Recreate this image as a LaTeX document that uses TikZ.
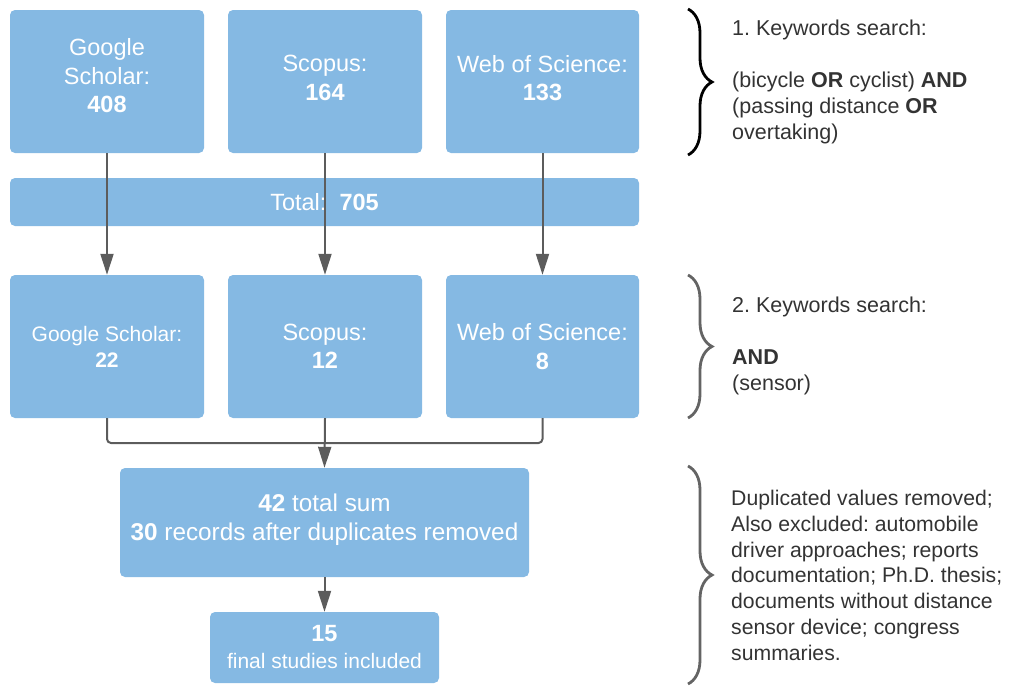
\documentclass[tikz,border=0pt]{standalone}
\usepackage{fontspec}
\setmainfont{Liberation Sans}
\usetikzlibrary{arrows.meta,decorations.pathreplacing}
\definecolor{boxblue}{RGB}{133,185,227}
\definecolor{arrowgray}{RGB}{92,92,92}
\definecolor{bracegray}{RGB}{100,100,100}
\definecolor{textgray}{RGB}{51,51,51}
\frenchspacing
\begin{document}
\begin{tikzpicture}[x=1pt,y=-1pt,
  box/.style={fill=boxblue,draw=none,rounded corners=5pt,text=white,align=center,
    inner sep=0pt,font=\fontsize{23.5}{28.5}\selectfont},
  arr/.style={draw=arrowgray,line width=2pt,-{Triangle[width=13pt,length=21pt]}},
  conn/.style={draw=arrowgray,line width=2pt,rounded corners=4pt},
  note/.style={anchor=north west,align=left,inner sep=0pt,text=textgray,
    font=\fontsize{21.5}{26}\selectfont},
  bracestyle/.style={decorate,decoration={brace,amplitude=24pt,aspect=0.5},line width=2.8pt}
]
\useasboundingbox (0,0) rectangle (1015,686);

% top row
\node[box,minimum width=194pt,minimum height=143pt,text depth=12pt] (gs1) at (107,81.5) {Google\\Scholar:\\\textbf{408}};
\node[box,minimum width=194pt,minimum height=143pt,text depth=7pt] (sc1) at (325,81.5) {Scopus:\\\textbf{164}};
\node[box,minimum width=193pt,minimum height=143pt,text depth=7pt] (ws1) at (542.5,81.5) {Web of Science:\\\textbf{133}};

% total bar
\node[box,minimum width=629pt,minimum height=48pt] (tot) at (324.5,202) {Total:\ \ \textbf{705}};

% second row
\node[box,minimum width=194pt,minimum height=143pt,font=\fontsize{21}{26}\selectfont] (gs2) at (107,346.5) {Google Scholar:\\\textbf{22}};
\node[box,minimum width=194pt,minimum height=143pt] (sc2) at (325,346.5) {Scopus:\\\textbf{12}};
\node[box,minimum width=193pt,minimum height=143pt] (ws2) at (542.5,346.5) {Web of Science:\\\textbf{8}};

% merged box
\node[box,minimum width=409pt,minimum height=109pt,text depth=11pt,font=\fontsize{24.3}{29}\selectfont] (mrg) at (324.5,522.5) {\textbf{42} total sum\\\textbf{30} records after duplicates removed};

% final box
\node[box,minimum width=229pt,minimum height=71pt,font=\fontsize{21}{27}\selectfont] (fin) at (324.5,647.5) {{\fontsize{23.5}{27}\selectfont\textbf{15}}\\final studies included};

% arrows
\draw[arr] (gs1.south) -- (gs2.north);
\draw[arr] (sc1.south) -- (sc2.north);
\draw[arr] (ws1.south) -- (ws2.north);
\coordinate (join) at (325,443);
\draw[conn] (gs2.south) |- (join) -| (ws2.south);
\draw[arr] (sc2.south) -- (mrg.north);
\draw[arr] (mrg.south) -- (fin.north);

% braces
\draw[bracestyle,draw=black] (688,9) -- (688,155);
\draw[bracestyle,draw=bracegray] (688,275) -- (688,418);
\draw[bracestyle,draw=bracegray] (688,466) -- (688,684);

% notes
\node[note] (n1) at (732,20) {1. Keywords search:\\[26pt](bicycle \textbf{OR} cyclist) \textbf{AND}\\(passing distance \textbf{OR}\\overtaking)};
\node[note] (n2) at (732,297) {2. Keywords search:\\[26pt]\textbf{AND}\\(sensor)};
\node[note,font=\fontsize{21.2}{25.8}\selectfont] (n3) at (731,490) {Duplicated values removed;\\Also excluded: automobile\\driver approaches; reports\\documentation; Ph.D. thesis;\\documents without distance\\sensor device; congress\\summaries.};
\end{tikzpicture}
\end{document}
